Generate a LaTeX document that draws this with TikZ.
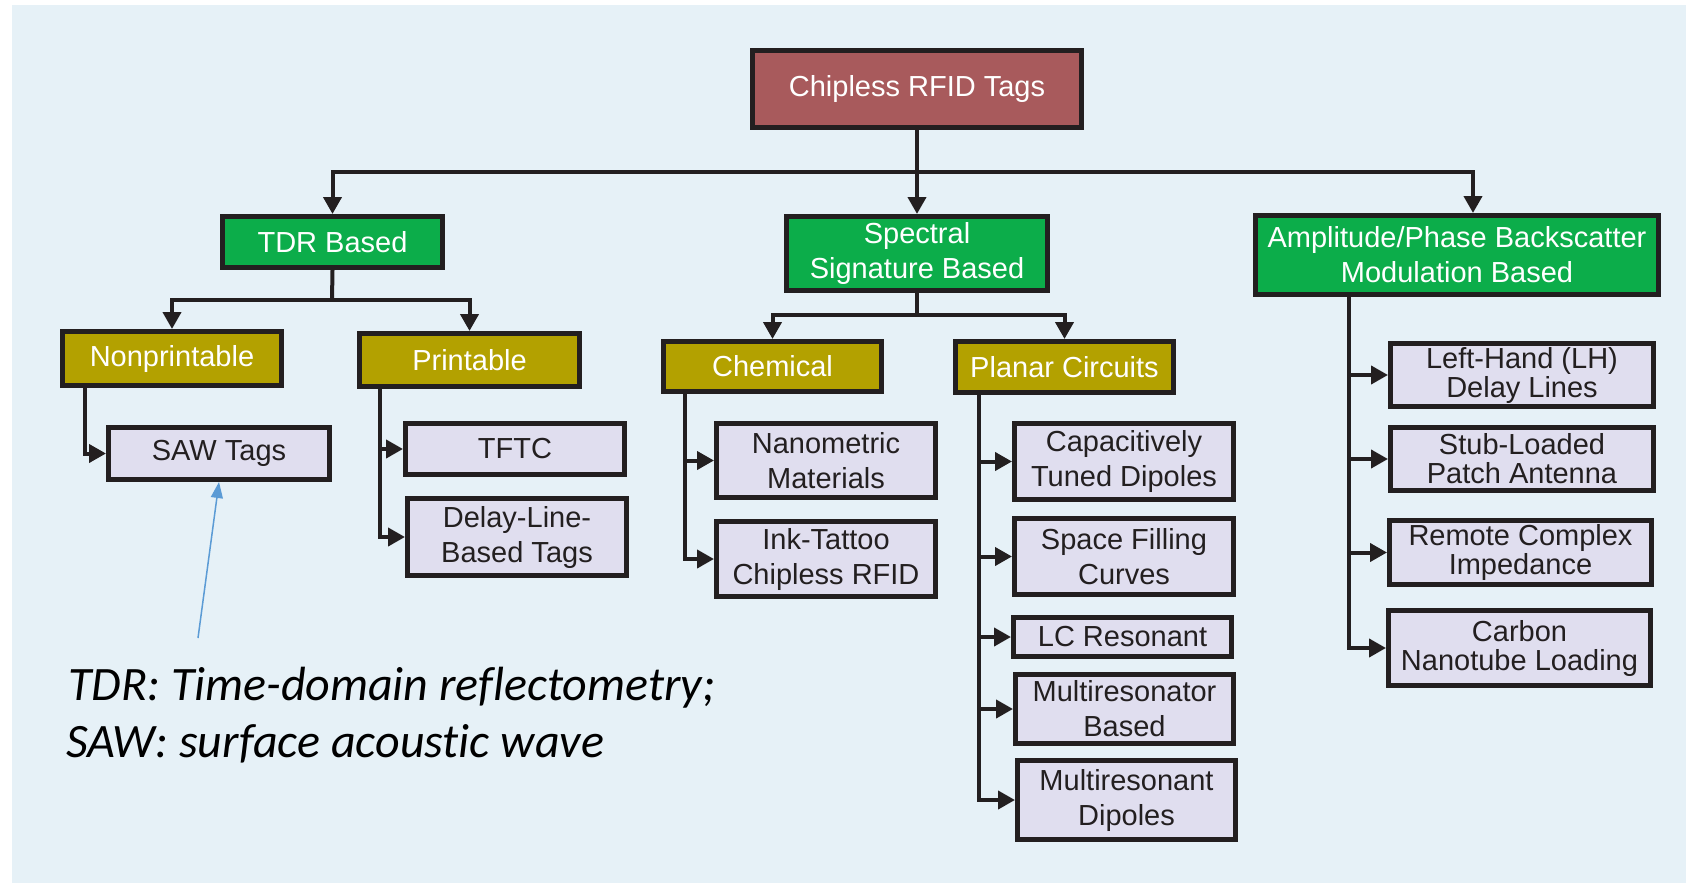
\documentclass[tikz,border=0pt]{standalone}
\usepackage{fontspec}
\setmainfont{Liberation Sans}
\newfontfamily\capfont{Carlito}[Ligatures=NoCommon]
\usetikzlibrary{arrows.meta,calc}
\definecolor{panelc}{HTML}{E6F1F7}
\definecolor{bordc}{HTML}{231F20}
\definecolor{rootc}{HTML}{A85A5C}
\definecolor{grnc}{HTML}{0CAD4A}
\definecolor{olvc}{HTML}{B3A100}
\definecolor{leafc}{HTML}{E0DEEF}
\definecolor{txtc}{HTML}{231F20}
\definecolor{notec}{HTML}{5B9BD5}
\newcommand\mkbox[7]{\node[#2, minimum width={(#5-#3-5)*0.5pt}, minimum height={(#6-#4-5)*0.5pt}] (#1) at ({(#3+#5)/2},{(#4+#6)/2}) {#7};}
\tikzset{
 boxbase/.style={draw=bordc, line width=2.5pt, inner sep=0pt, align=center, font=\fontsize{14.5}{17.5}\selectfont},
 rootbox/.style={boxbase, fill=rootc, text=white},
 grnbox/.style={boxbase, fill=grnc, text=white},
 olvbox/.style={boxbase, fill=olvc, text=white},
 leafbox/.style={boxbase, fill=leafc, text=txtc},
 tightbox/.style={leafbox, font=\fontsize{14.5}{14.5}\selectfont},
 conn/.style={draw=bordc, line width=2pt},
 arr/.style={conn, -{Triangle[length=8.5pt,width=9pt]}},
 note/.style={draw=notec, line width=0.75pt, -{Triangle[length=8pt,width=6pt]}},
 captext/.style={font=\capfont\itshape\fontsize{24}{29}\selectfont, text=black, inner sep=0pt, anchor=base west},
}
\begin{document}
\begin{tikzpicture}[x=0.5pt,y=-0.5pt]
\useasboundingbox (0,0) rectangle (1686,883);
\fill[white] (0,0) rectangle (1686,883);
\fill[panelc] (12,5) rectangle (1686,883);
% boxes
\mkbox{root}{rootbox}{750}{48}{1084}{130}{Chipless RFID Tags}
\mkbox{tdr}{grnbox}{220}{214}{445}{270}{TDR Based}
\mkbox{spec}{grnbox}{784}{214}{1050}{293}{Spectral\\Signature Based}
\mkbox{amp}{grnbox}{1253}{213}{1661}{297}{Amplitude/Phase Backscatter\\Modulation Based}
\mkbox{np}{olvbox}{60}{329}{284}{388}{Nonprintable}
\mkbox{pr}{olvbox}{357}{331}{582}{389}{Printable}
\mkbox{chem}{olvbox}{661}{339}{884}{394}{Chemical}
\mkbox{plan}{olvbox}{953}{339}{1176}{395}{Planar Circuits}
\mkbox{saw}{leafbox}{106}{425}{332}{482}{SAW Tags}
\mkbox{tftc}{leafbox}{403}{421}{627}{477}{TFTC}
\mkbox{dl}{leafbox}{405}{496}{629}{578}{Delay-Line-\\Based Tags}
\mkbox{nano}{leafbox}{714}{421}{938}{500}{Nanometric\\Materials}
\mkbox{ink}{leafbox}{714}{519}{938}{599}{Ink-Tattoo\\Chipless RFID}
\mkbox{capt}{leafbox}{1012}{421}{1236}{502}{Capacitively\\Tuned Dipoles}
\mkbox{sfc}{leafbox}{1012}{516}{1236}{597}{Space Filling\\Curves}
\mkbox{lc}{leafbox}{1011}{615}{1234}{659}{LC Resonant}
\mkbox{mrb}{leafbox}{1013}{672}{1236}{746}{Multiresonator\\Based}
\mkbox{mrd}{leafbox}{1015}{758}{1238}{842}{Multiresonant\\Dipoles}
\mkbox{lh}{tightbox}{1388}{341}{1656}{409}{Left-Hand (LH)\\Delay Lines}
\mkbox{stub}{tightbox}{1388}{425}{1656}{493}{Stub-Loaded\\Patch Antenna}
\mkbox{rci}{tightbox}{1387}{518}{1654}{587}{Remote Complex\\Impedance}
\mkbox{cnl}{tightbox}{1386}{608}{1653}{688}{Carbon\\Nanotube Loading}
% bus coordinates
\coordinate (b0) at (917,172);
\coordinate (b1) at (332,300);
\coordinate (b2) at (917,315);
\coordinate (ampx) at (1473,0);
\coordinate (vnp) at (85,0);
\coordinate (vpr) at (380,0);
\coordinate (vch) at (685,0);
\coordinate (vpl) at (979,0);
\coordinate (vam) at (1349,0);
% level 1
\draw[conn] (root.south) -- (b0);
\draw[arr] (b0) -| (tdr.north);
\draw[arr] (b0) -- (spec.north);
\draw[arr] (b0) -| (amp.north -| ampx);
% level 2
\draw[conn] (tdr.south) -- (b1);
\draw[arr] (b1) -| (np.north);
\draw[arr] (b1) -| (pr.north);
\draw[conn] (spec.south) -- (b2);
\draw[arr] (b2) -| (chem.north);
\draw[arr] (b2) -| (plan.north);
% leaves
\draw[arr] (np.south -| vnp) |- (saw.west);
\draw[arr] (pr.south -| vpr) |- (tftc.west);
\draw[arr] (pr.south -| vpr) |- (dl.west);
\draw[arr] (chem.south -| vch) |- (nano.west);
\draw[arr] (chem.south -| vch) |- (ink.west);
\draw[arr] (plan.south -| vpl) |- (capt.west);
\draw[arr] (plan.south -| vpl) |- (sfc.west);
\draw[arr] (plan.south -| vpl) |- (lc.west);
\draw[arr] (plan.south -| vpl) |- (mrb.west);
\draw[arr] (plan.south -| vpl) |- (mrd.west);
\draw[arr] (amp.south -| vam) |- (lh.west);
\draw[arr] (amp.south -| vam) |- (stub.west);
\draw[arr] (amp.south -| vam) |- (rci.west);
\draw[arr] (amp.south -| vam) |- (cnl.west);
% note
\coordinate (ns) at (198,638);
\draw[note] (ns) -- (saw.south);
\node[captext] (cap1) at (68,700) {TDR: Time-domain reflectometry;};
\node[captext] (cap2) at (66,757) {SAW: surface acoustic wave};
\end{tikzpicture}
\end{document}
